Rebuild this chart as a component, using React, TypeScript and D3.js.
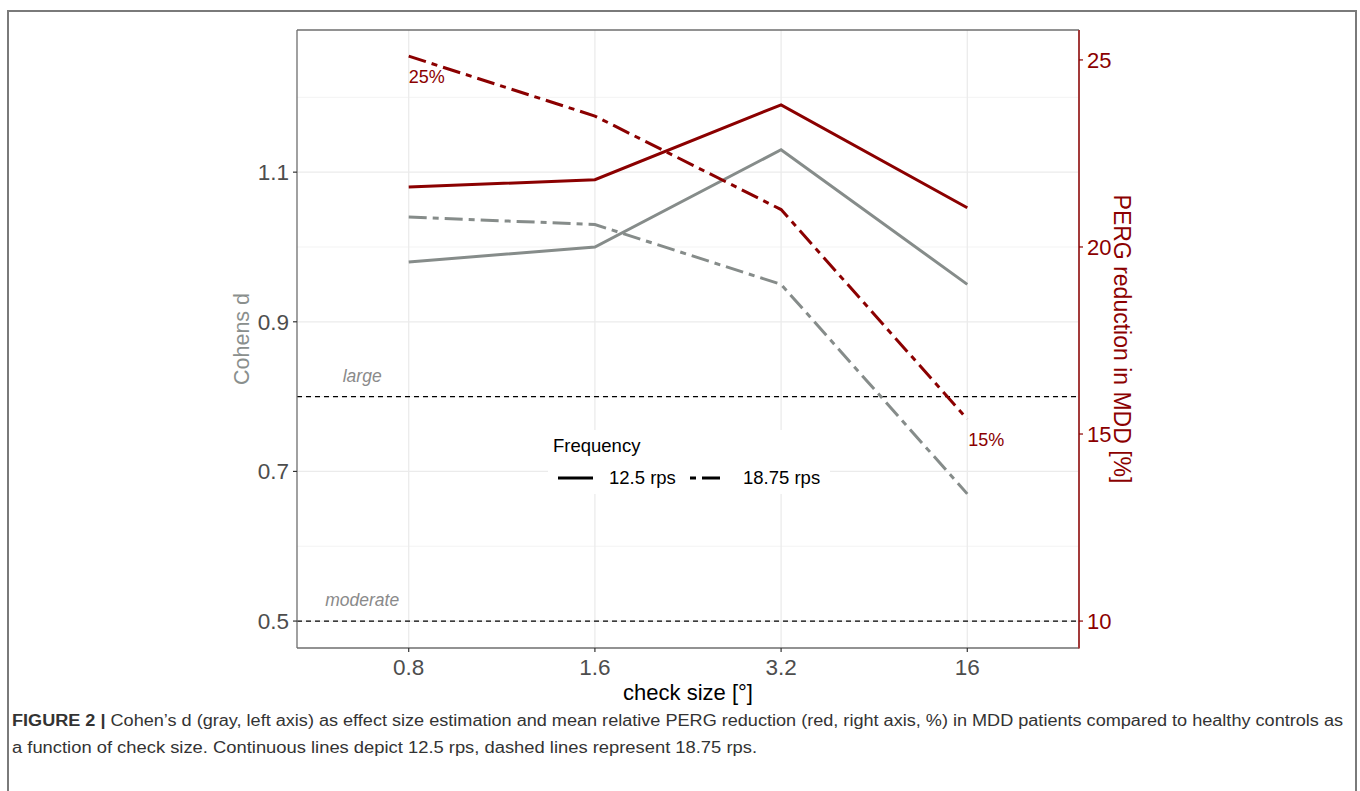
import React from "react";
import * as d3 from "d3";

// check sizes (x categories)
const checkSizes = ["0.8", "1.6", "3.2", "16"];

// Cohen's d (gray, left axis)
const cohen125 = [0.98, 1.0, 1.13, 0.95];
const cohen1875 = [1.04, 1.03, 0.95, 0.67];

// PERG reduction in MDD [%] (red, right axis)
const perg125 = [21.6, 21.8, 23.8, 21.05];
const perg1875 = [25.1, 23.5, 21.0, 15.4];

const leftTicks = [0.5, 0.7, 0.9, 1.1];
const leftMinor = [0.6, 0.8, 1.0, 1.2];
const rightTicks = [10, 15, 20, 25];

// reference lines for effect size
const thresholds = [
  { value: 0.8, label: "large" },
  { value: 0.5, label: "moderate" },
];

const legendItems = [
  { label: "12.5 rps", dash: null },
  { label: "18.75 rps", dash: "6,6,18,6" },
];

const GRAY = "#868c8a";
const RED = "#8b0000";
const DASH = "18,6,6,6";
const FONT = "'Liberation Sans', Arial, sans-serif";

export default function App() {
  const margin = { top: 30, right: 281, bottom: 143, left: 297 };
  const W = 1360;
  const H = 791;
  const x0 = margin.left;
  const x1 = W - margin.right;
  const y0 = margin.top;
  const y1 = H - margin.bottom;

  const x = d3.scalePoint<string>().domain(checkSizes).range([x0, x1]).padding(0.6);
  const step = x.step();
  const yL = d3.scaleLinear().domain([0.464, 1.29]).range([y1, y0]);
  const yR = d3.scaleLinear().domain([9.28, 25.8]).range([y1, y0]);

  const lineL = d3
    .line<number>()
    .x((_, i) => x(checkSizes[i])!)
    .y((d) => yL(d));
  const lineR = d3
    .line<number>()
    .x((_, i) => x(checkSizes[i])!)
    .y((d) => yR(d));

  const legX = 548;
  const legY = 430;

  return (
    <svg
      width={W}
      height={H}
      style={{ position: "absolute", left: 0, top: 0, display: "block", background: "#fff" }}
      fontFamily={FONT}
    >
      {/* outer frame */}
      <rect x={8} y={11} width={1348} height={790} fill="none" stroke="#7a7a7a" strokeWidth={2} />

      {/* grid */}
      {leftMinor.map((v) => (
        <line key={"mi" + v} x1={x0} x2={x1} y1={yL(v)} y2={yL(v)} stroke="#f3f3f3" strokeWidth={1} />
      ))}
      {leftTicks.map((v) => (
        <line key={"ma" + v} x1={x0} x2={x1} y1={yL(v)} y2={yL(v)} stroke="#ebebeb" strokeWidth={1.3} />
      ))}
      {checkSizes.map((c) => (
        <line key={"gx" + c} x1={x(c)} x2={x(c)} y1={y0} y2={y1} stroke="#ebebeb" strokeWidth={1.3} />
      ))}

      {/* threshold lines */}
      {thresholds.map((t) => (
        <g key={t.label}>
          <line x1={x0} x2={x1} y1={yL(t.value)} y2={yL(t.value)} stroke="#000" strokeWidth={1.3} strokeDasharray="5,4" />
          <text
            x={x(checkSizes[0])! - 0.25 * step}
            y={yL(t.value) - 15}
            textAnchor="middle"
            fontStyle="italic"
            fontSize={17.5}
            fill="#8a8a8a"
          >
            {t.label}
          </text>
        </g>
      ))}

      {/* series */}
      <path d={lineL(cohen125)!} fill="none" stroke={GRAY} strokeWidth={3} />
      <path d={lineL(cohen1875)!} fill="none" stroke={GRAY} strokeWidth={3} strokeDasharray={DASH} />
      <path d={lineR(perg125)!} fill="none" stroke={RED} strokeWidth={3} />
      <path d={lineR(perg1875)!} fill="none" stroke={RED} strokeWidth={3} strokeDasharray={DASH} />

      {/* percent annotations */}
      <text x={x(checkSizes[0])} y={yR(perg1875[0]) + 27} fontSize={18} fill={RED}>
        {Math.round(perg1875[0]) + "%"}
      </text>
      <text x={x(checkSizes[3])! + 1} y={yR(perg1875[3]) + 27} fontSize={18} fill={RED}>
        {Math.round(perg1875[3]) + "%"}
      </text>

      {/* legend */}
      <rect x={legX} y={legY} width={282} height={64} fill="#fff" />
      <text x={553} y={452} fontSize={18.5} fill="#000">
        Frequency
      </text>
      {legendItems.map((it, i) => {
        const kx = i === 0 ? 558 : 690;
        return (
          <g key={it.label}>
            <line
              x1={kx}
              x2={kx + 35}
              y1={478}
              y2={478}
              stroke="#000"
              strokeWidth={3}
              strokeDasharray={it.dash ?? undefined}
            />
            <text x={kx + (i === 0 ? 51 : 53)} y={484} fontSize={18.5} fill="#000">
              {it.label}
            </text>
          </g>
        );
      })}

      {/* panel border + axes */}
      <line x1={x0} x2={x1} y1={y0} y2={y0} stroke="#6e6e6e" strokeWidth={1.3} />
      <line x1={x0} x2={x1} y1={y1} y2={y1} stroke="#6e6e6e" strokeWidth={1.3} />
      <line x1={x0} x2={x0} y1={y0} y2={y1} stroke="#6e6e6e" strokeWidth={1.3} />
      <line x1={x1} x2={x1} y1={y0} y2={y1 + 0.6} stroke="#a33a3a" strokeWidth={2} />

      {/* left axis */}
      {leftTicks.map((v) => (
        <g key={"lt" + v}>
          <line x1={x0 - 4} x2={x0} y1={yL(v)} y2={yL(v)} stroke="#333" strokeWidth={1.2} />
          <text x={x0 - 8} y={yL(v) + 8} textAnchor="end" fontSize={22.5} fill="#4d4d4d">
            {d3.format(".1f")(v)}
          </text>
        </g>
      ))}
      <text
        transform={`translate(${249},${(y0 + y1) / 2}) rotate(-90)`}
        textAnchor="middle"
        fontSize={21.5}
        fill="#8a8f8d"
      >
        Cohens d
      </text>

      {/* right axis */}
      {rightTicks.map((v) => (
        <g key={"rt" + v}>
          <line x1={x1} x2={x1 + 4} y1={yR(v)} y2={yR(v)} stroke={RED} strokeWidth={1.2} />
          <text x={x1 + 8} y={yR(v) + 8} fontSize={22} fill={RED}>
            {v}
          </text>
        </g>
      ))}
      <text
        transform={`translate(${1114},${(y0 + y1) / 2}) rotate(90)`}
        textAnchor="middle"
        fontSize={23}
        fill={RED}
      >
        PERG reduction in MDD [%]
      </text>

      {/* bottom axis */}
      {checkSizes.map((c) => (
        <g key={"bt" + c}>
          <line x1={x(c)} x2={x(c)} y1={y1} y2={y1 + 4} stroke="#333" strokeWidth={1.2} />
          <text x={x(c)} y={y1 + 27} textAnchor="middle" fontSize={22.5} fill="#4d4d4d">
            {c}
          </text>
        </g>
      ))}
      <text x={(x0 + x1) / 2} y={700} textAnchor="middle" fontSize={22} fill="#000">
        check size [°]
      </text>

      {/* caption */}
      <text x={12} y={726} fontSize={16} fill="#333" textLength={1331} lengthAdjust="spacingAndGlyphs">
        <tspan fontWeight="bold">FIGURE 2 | </tspan>
        Cohen’s d (gray, left axis) as effect size estimation and mean relative PERG reduction (red, right axis, %) in MDD patients compared to healthy controls as
      </text>
      <text x={12} y={753} fontSize={16} fill="#333" textLength={745} lengthAdjust="spacingAndGlyphs">
        a function of check size. Continuous lines depict 12.5 rps, dashed lines represent 18.75 rps.
      </text>
    </svg>
  );
}
